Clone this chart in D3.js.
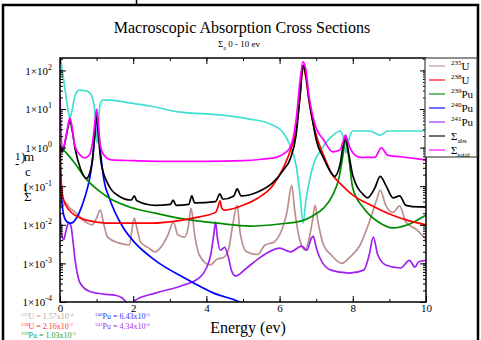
<!DOCTYPE html>
<html><head><meta charset="utf-8">
<script src="https://cdn.jsdelivr.net/npm/d3@7"></script>
<style>
html,body{margin:0;padding:0;background:#fff;}
svg{display:block;font-family:"Liberation Serif","Times New Roman",serif;}
</style></head><body>
<svg id="chart" width="481" height="340"></svg>
<script>
// Energy (eV) vs. macroscopic absorption cross section (1/cm)
const u235 = [[0,0.044],[0.05,0.027],[0.14,0.039],[0.27,0.027],[0.42,0.021],[0.7,0.0118],[0.88,0.010],[1.0,0.015],[1.1,0.024],[1.2,0.010],[1.3,0.0048],[1.6,0.0034],[1.9,0.0030],[1.97,0.008],[2.03,0.015],[2.1,0.0083],[2.2,0.0036],[2.4,0.0026],[2.6,0.0020],[2.8,0.0030],[2.95,0.0055],[3.1,0.0118],[3.22,0.0055],[3.4,0.0048],[3.5,0.0083],[3.58,0.027],[3.68,0.0055],[3.8,0.0017],[4.1,0.00091],[4.3,0.0013],[4.45,0.0014],[4.6,0.0022],[4.72,0.010],[4.84,0.032],[4.92,0.0065],[5.1,0.0020],[5.4,0.0017],[5.6,0.0030],[5.85,0.0036],[6.0,0.0055],[6.2,0.021],[6.33,0.105],[6.42,0.021],[6.55,0.0041],[6.7,0.0022],[6.8,0.0041],[6.9,0.013],[6.97,0.032],[7.05,0.0118],[7.2,0.0030],[7.4,0.0017],[7.7,0.0010],[7.9,0.0014],[8.2,0.0030],[8.45,0.0118],[8.65,0.044],[8.75,0.079],[8.9,0.032],[9.1,0.021],[9.28,0.031],[9.45,0.0118],[9.75,0.0074],[10,0.0041]];

const u238 = [[0.01,0.87],[0.04,0.107],[0.1,0.044],[0.25,0.024],[0.5,0.016],[1.0,0.0118],[1.5,0.011],[2.5,0.011],[3.3,0.013],[3.8,0.016],[4.25,0.021],[4.33,0.032],[4.37,0.042],[4.42,0.027],[4.5,0.024],[5.0,0.032],[5.4,0.049],[5.8,0.10],[6.1,0.30],[6.3,0.87],[6.45,2.9],[6.56,22],[6.64,122],[6.72,63],[6.8,17],[6.9,5.1],[7.0,2.1],[7.2,0.64],[7.4,0.23],[7.7,0.107],[8.0,0.059],[8.5,0.032],[9.0,0.019],[9.5,0.013],[10,0.010]];

const pu239 = [[0.02,1.17],[0.1,0.87],[0.2,0.68],[0.4,0.40],[0.7,0.16],[1.0,0.085],[1.35,0.049],[1.9,0.029],[2.6,0.020],[3.4,0.014],[4.3,0.011],[5.2,0.0093],[6.0,0.0105],[6.6,0.0126],[6.9,0.017],[7.2,0.027],[7.45,0.059],[7.62,0.16],[7.72,0.54],[7.8,1.6],[7.88,0.64],[8.0,0.089],[8.3,0.027],[8.7,0.0118],[9.1,0.0083],[9.5,0.010],[10,0.018]];

const pu240 = [[0,0.35],[0.04,0.059],[0.1,0.018],[0.2,0.0118],[0.3,0.011],[0.45,0.015],[0.6,0.031],[0.75,0.089],[0.85,0.26],[0.93,1.17],[0.98,4.6],[1.0,8.3],[1.03,4.6],[1.1,0.87],[1.2,0.145],[1.35,0.049],[1.7,0.0093],[2.05,0.0034],[2.6,0.0012],[3.4,0.00042],[4.2,0.00017],[4.9,0.0001],[5.2,0.00007]];

const pu241 = [[0,0.021],[0.05,0.0055],[0.1,0.0041],[0.17,0.0074],[0.24,0.0112],[0.3,0.0093],[0.35,0.0041],[0.42,0.0011],[0.55,0.00031],[0.8,0.00019],[1.2,0.00016],[1.5,0.00015],[1.7,0.000127],[1.85,0.00009],[1.95,0.00007],[2.05,0.00011],[2.6,0.00017],[3.3,0.00026],[3.8,0.00042],[4.0,0.00076],[4.12,0.0017],[4.2,0.0055],[4.25,0.0118],[4.3,0.0046],[4.38,0.0022],[4.5,0.0026],[4.58,0.0017],[4.7,0.0006],[4.8,0.00047],[5.1,0.00076],[5.5,0.0015],[6.0,0.0025],[6.3,0.0020],[6.6,0.0028],[6.75,0.0022],[6.85,0.0041],[6.92,0.0051],[7.0,0.0026],[7.1,0.0014],[7.4,0.00067],[7.9,0.00056],[8.3,0.00067],[8.45,0.0017],[8.56,0.0048],[8.68,0.0017],[8.9,0.00091],[9.3,0.00076],[9.55,0.0012],[9.7,0.0008],[9.8,0.0011],[10,0.0012]];

const sigAbs = [[0,1.17],[0.07,0.78],[0.15,1.6],[0.22,3.4],[0.27,5.1],[0.33,2.9],[0.42,0.87],[0.55,0.30],[0.72,0.16],[0.82,0.23],[0.9,0.64],[0.96,3.2],[1.0,8.3],[1.05,2.1],[1.12,0.43],[1.3,0.12],[1.6,0.056],[1.95,0.044],[2.03,0.056],[2.1,0.042],[2.6,0.032],[3.02,0.034],[3.09,0.044],[3.17,0.032],[3.52,0.034],[3.6,0.056],[3.68,0.037],[4.25,0.040],[4.37,0.063],[4.45,0.046],[4.75,0.056],[4.84,0.085],[4.95,0.056],[5.4,0.071],[5.8,0.12],[6.1,0.26],[6.3,0.54],[6.45,2.1],[6.56,23],[6.64,138],[6.72,76],[6.8,19],[6.9,5.1],[7.0,1.6],[7.2,0.54],[7.4,0.23],[7.5,0.18],[7.65,0.36],[7.74,1.17],[7.8,1.9],[7.88,0.78],[8.0,0.19],[8.3,0.059],[8.4,0.050],[8.6,0.089],[8.75,0.18],[8.9,0.107],[9.1,0.050],[9.28,0.056],[9.45,0.032],[9.8,0.029],[10,0.029]];

const sigTotal = [[0,23],[0.06,0.87],[0.15,1.6],[0.22,3.9],[0.27,5.9],[0.32,3.9],[0.4,1.17],[0.55,0.64],[0.68,0.54],[0.8,0.64],[0.9,1.6],[0.96,5.1],[1.0,10],[1.05,3.9],[1.1,1.17],[1.2,0.64],[1.4,0.48],[2.0,0.46],[3.0,0.44],[4.0,0.44],[5.0,0.46],[5.5,0.50],[5.9,0.56],[6.1,0.68],[6.28,0.98],[6.45,5.1],[6.56,56],[6.64,166],[6.72,102],[6.8,23],[6.9,7],[7.0,3.2],[7.2,1.6],[7.45,0.78],[7.65,0.87],[7.75,1.6],[7.8,2.1],[7.86,1.45],[7.95,0.87],[8.2,0.56],[8.6,0.56],[8.78,0.99],[8.95,0.64],[9.3,0.58],[10,0.48]];

const sigCyan = [[0,250],[0.08,76],[0.16,23],[0.22,9.4],[0.27,5.9],[0.33,9.4],[0.41,22],[0.52,31],[0.68,30],[0.82,26],[0.93,12.6],[0.98,3.9],[1.01,1.3],[1.05,3.9],[1.09,12.6],[1.17,17],[1.37,17],[1.91,14.4],[2.46,12],[3.28,8.3],[4.1,7.4],[5.19,5.5],[5.74,4.1],[6.09,2.5],[6.28,1.17],[6.45,0.35],[6.56,0.059],[6.64,0.011],[6.72,0.044],[6.83,0.16],[6.97,0.48],[7.1,0.78],[7.38,1.78],[7.65,2.7],[7.76,1.6],[7.81,0.73],[7.89,1.6],[8.0,2.7],[8.47,2.7],[8.74,2.1],[8.96,2.7],[10,2.7]];

const xTicksMajor = [0, 2, 4, 6, 8, 10];
const yTickExps = [2, 1, 0, -1, -2, -3, -4];

const legendItems = [
  {sup: "235", base: "U", color: "#bc8f8f"},
  {sup: "238", base: "U", color: "#ff0000"},
  {sup: "239", base: "Pu", color: "#008b00"},
  {sup: "240", base: "Pu", color: "#0000ff"},
  {sup: "241", base: "Pu", color: "#a020f0"},
  {sig: "abs", color: "#000000"},
  {sig: "total", color: "#ff00ff"}
];

const thermalNotes = [
  {sup: "235", base: "U", mant: "1.57", exp: "-4", color: "#c99a9a"},
  {sup: "238", base: "U", mant: "2.16", exp: "-2", color: "#ff3030"},
  {sup: "239", base: "Pu", mant: "1.03", exp: "-3", color: "#22a022"},
  {sup: "240", base: "Pu", mant: "6.43", exp: "-5", color: "#3030ff"},
  {sup: "241", base: "Pu", mant: "4.34", exp: "-6", color: "#a030e0"}
];

const series = [
  {data: sigCyan, color: "#40e0d0"},
  {data: u235, color: "#bc8f8f"},
  {data: pu241, color: "#a020f0"},
  {data: pu240, color: "#0000ff"},
  {data: pu239, color: "#008b00"},
  {data: u238, color: "#ff0000"},
  {data: sigAbs, color: "#000000"},
  {data: sigTotal, color: "#ff00ff"}
];

const svg = d3.select("#chart");

// outer page frame
svg.append("line").attr("x1", 136.5).attr("x2", 136.5).attr("y1", 0).attr("y2", 5)
  .attr("stroke", "#000").attr("stroke-width", 1.5);
svg.append("rect").attr("x", 3).attr("y", 5).attr("width", 475).attr("height", 345)
  .attr("fill", "none").attr("stroke", "#000").attr("stroke-width", 2.5);

const L = 60, R = 426, T = 58, B = 302;
const x = d3.scaleLinear().domain([0, 10]).range([L, R]);
const y = d3.scaleLog().domain([1e-4, 210]).range([B, T]);

// titles
svg.append("text").attr("x", 242).attr("y", 33).attr("text-anchor", "middle")
  .attr("font-size", 16).text("Macroscopic Absorption Cross Sections");
const sub = svg.append("text").attr("x", 218).attr("y", 47).attr("font-size", 9);
sub.append("tspan").text("Σ");
sub.append("tspan").attr("font-size", 6).attr("dy", 3).text("a");
sub.append("tspan").attr("dy", -3).text("  0 - 10 ev");

// clipped curves
svg.append("clipPath").attr("id", "plotClip").append("rect")
  .attr("x", L).attr("y", T).attr("width", R - L).attr("height", B - T);

const line = d3.line()
  .x(d => x(d[0]))
  .y(d => y(d[1]))
  .curve(d3.curveMonotoneX);

svg.append("g").attr("clip-path", "url(#plotClip)")
  .selectAll("path").data(series).join("path")
  .attr("d", d => line(d.data))
  .attr("fill", "none")
  .attr("stroke", d => d.color)
  .attr("stroke-width", 1.7)
  .attr("stroke-linejoin", "round");

// axes: ticks point inward on all four sides
const xMinor = d3.range(0, 11, 1);
const logMinor = [];
for (let e = -4; e <= 2; e++) for (let m = 1; m <= 9; m++) {
  const v = m * Math.pow(10, e);
  if (v <= 210) logMinor.push(v);
}

function styleAxis(g) {
  g.selectAll(".domain").remove();
  g.selectAll("line").attr("stroke", "#000").attr("stroke-width", 1);
}

svg.append("g").attr("transform", `translate(0,${B})`)
  .call(d3.axisBottom(x).tickValues(xMinor).tickSize(-3).tickFormat(""))
  .call(styleAxis);
svg.append("g").attr("transform", `translate(0,${B})`)
  .call(d3.axisBottom(x).tickValues(xTicksMajor).tickSize(-6).tickPadding(3).tickFormat(d3.format("d")))
  .call(styleAxis)
  .call(g => g.selectAll("text").attr("font-family", "Liberation Serif, serif").attr("font-size", 11).attr("fill", "#000").attr("dy", "0.75em").attr("y", 2));
svg.append("g").attr("transform", `translate(0,${T})`)
  .call(d3.axisTop(x).tickValues(xMinor).tickSize(-3).tickFormat(""))
  .call(styleAxis);
svg.append("g").attr("transform", `translate(0,${T})`)
  .call(d3.axisTop(x).tickValues(xTicksMajor).tickSize(-6).tickFormat(""))
  .call(styleAxis);

svg.append("g").attr("transform", `translate(${L},0)`)
  .call(d3.axisLeft(y).tickValues(logMinor).tickSize(-3).tickFormat(""))
  .call(styleAxis);
const yMajor = svg.append("g").attr("transform", `translate(${L},0)`)
  .call(d3.axisLeft(y).tickValues(yTickExps.map(e => Math.pow(10, e))).tickSize(-6).tickPadding(5).tickFormat(""))
  .call(styleAxis);
yMajor.selectAll(".tick").each(function(d) {
  const t = d3.select(this).select("text")
    .attr("font-family", "Liberation Serif, serif").attr("font-size", 11).attr("fill", "#000")
    .attr("dy", "0.35em").attr("x", -8);
  const ex = Math.round(Math.log10(d));
  t.append("tspan").text("1×10");
  t.append("tspan").attr("font-size", 8).attr("dy", -5).text(ex);
});
svg.append("g").attr("transform", `translate(${R},0)`)
  .call(d3.axisRight(y).tickValues(logMinor).tickSize(-3).tickFormat(""))
  .call(styleAxis);
svg.append("g").attr("transform", `translate(${R},0)`)
  .call(d3.axisRight(y).tickValues(yTickExps.map(e => Math.pow(10, e))).tickSize(-6).tickFormat(""))
  .call(styleAxis);

// plot box
svg.append("rect").attr("x", L).attr("y", T).attr("width", R - L).attr("height", B - T)
  .attr("fill", "none").attr("stroke", "#000").attr("stroke-width", 1.5);

// x label
svg.append("text").attr("x", 248).attr("y", 333).attr("text-anchor", "middle")
  .attr("font-size", 16).text("Energy (ev)");

// stacked y label
const yl = svg.append("g").attr("font-size", 13).attr("fill", "#000");
yl.append("text").attr("x", 15).attr("y", 160).attr("font-size", 11).text("1");
yl.append("text").attr("x", 21).attr("y", 161).text(")");
yl.append("text").attr("x", 24).attr("y", 161).text("m");
yl.append("text").attr("x", 15).attr("y", 168).text("-");
yl.append("text").attr("x", 25).attr("y", 176).text("c");
yl.append("text").attr("x", 24).attr("y", 191).text("(");
yl.append("text").attr("x", 24).attr("y", 201).text("Σ");

// legend
const lg = svg.append("g");
lg.append("rect").attr("x", 425).attr("y", 58).attr("width", 52).attr("height", 99)
  .attr("fill", "#fff").attr("stroke", "#444").attr("stroke-width", 1.2);
legendItems.forEach((it, i) => {
  const cy = 66 + i * 14;
  lg.append("line").attr("x1", 429).attr("x2", 445).attr("y1", cy).attr("y2", cy)
    .attr("stroke", it.color).attr("stroke-width", 1.5).attr("opacity", 0.75);
  const t = lg.append("text").attr("x", 451).attr("y", cy + 4).attr("font-size", 11);
  if (it.sig) {
    t.append("tspan").text("Σ");
    t.append("tspan").attr("font-size", 7).attr("dy", 3).text(it.sig);
  } else {
    t.append("tspan").attr("font-size", 7).attr("dy", -5).text(it.sup);
    t.append("tspan").attr("dy", 5).text(it.base);
  }
});

// thermal reference values
thermalNotes.forEach((n, i) => {
  const col = i < 3 ? 0 : 1;
  const row = i < 3 ? i : i - 3;
  const t = svg.append("text")
    .attr("x", col === 0 ? 21 : 95).attr("y", 319 + row * 9.5)
    .attr("font-size", 8).attr("fill", n.color);
  t.append("tspan").attr("font-size", 5).attr("dy", -3).text(n.sup);
  t.append("tspan").attr("dy", 3).text(n.base + " = " + n.mant + "x10");
  t.append("tspan").attr("font-size", 5).attr("dy", -3).text(n.exp);
});
</script>
</body></html>
